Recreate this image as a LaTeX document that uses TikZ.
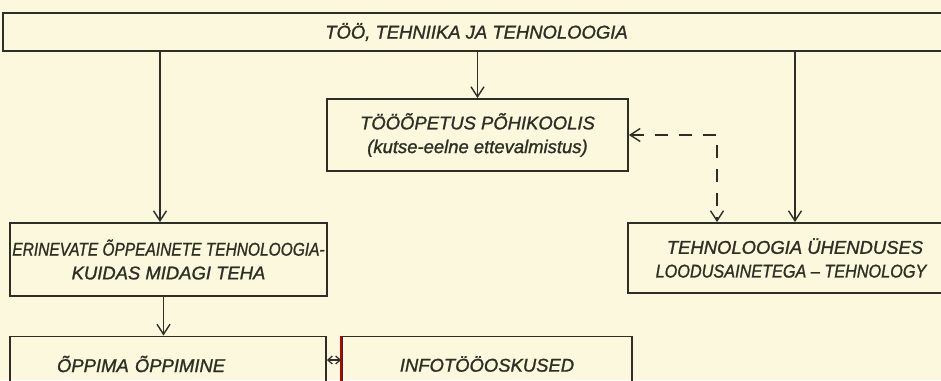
\documentclass[tikz,border=0pt]{standalone}
\usepackage{fontspec}
\setmainfont{Liberation Sans}[ItalicFeatures={FakeBold=1.2}]
\usetikzlibrary{arrows.meta,positioning}
\definecolor{paper}{HTML}{FBF8DE}
\definecolor{ink}{HTML}{2E2E24}

\begin{document}
\begin{tikzpicture}[
    x=0.02cm, y=-0.02cm,
    every node/.style={font=\itshape\fontsize{10.5}{13.5}\selectfont, text=ink},
    box/.style={draw=ink, line width=1.1pt, align=center, inner sep=0pt},
    flow/.style={-{Straight Barb[length=2mm,width=2.6mm]}, draw=ink, line width=0.8pt},
    feedback/.style={{Straight Barb[length=2mm,width=2.6mm]}-{Straight Barb[length=2mm,width=2.6mm]}, draw=ink, line width=0.8pt, dash pattern=on 2.6mm off 2.2mm},
    link/.style={{Straight Barb[length=0.9mm,width=1.6mm]}-{Straight Barb[length=0.9mm,width=1.6mm]}, draw=ink, line width=0.7pt}
]
\fill[paper] (0,0) rectangle (941,380);
\useasboundingbox (0,0) rectangle (941,380);

\node[box, minimum width=18.94cm, minimum height=0.76cm] (tech) at (476.5,32) {TÖÖ, TEHNIIKA JA TEHNOLOOGIA};
\node[box, minimum width=6.02cm, minimum height=1.44cm] (school) at (477.5,135) {TÖÖÕPETUS PÕHIKOOLIS\\(kutse-eelne ettevalmistus)};
\node[box, minimum width=6.34cm, minimum height=1.46cm] (subjects) at (168.5,259.5) {\scalebox{0.84}[1]{ERINEVATE ÕPPEAINETE TEHNOLOOGIA-}\\KUIDAS MIDAGI TEHA};
\node[box, minimum width=6.68cm, minimum height=1.4cm] (science) at (795,258) {TEHNOLOOGIA ÜHENDUSES\\\scalebox{0.88}[1]{LOODUSAINETEGA -- TEHNOLOGY}\hspace*{0.16cm}};
\node[box, text width=4.44cm, inner xsep=0.94cm, align=left, minimum height=1.1cm] (learning) at (168,364) {ÕPPIMA ÕPPIMINE};
\node[box, minimum width=5.8cm, minimum height=1.1cm] (info) at (487,364) {INFOTÖÖOSKUSED};
\draw[red!75!black, line width=1.1pt] (info.north west) -- (info.south west);

\draw[flow] ([xshift=-1.7mm]subjects.north |- tech.south) -- ([xshift=-1.7mm]subjects.north);
\draw[flow] (school.north |- tech.south) -- (school.north);
\draw[flow] (science.north |- tech.south) -- (science.north);
\draw[feedback] (school.east) -| ([xshift=-15.6mm]science.north);
\draw[flow] ([xshift=-1mm]subjects.south) -- ([xshift=-1mm]subjects.south |- learning.north);
\draw[link] (learning.east |- 0,360) -- (info.west |- 0,360);
\end{tikzpicture}
\end{document}
